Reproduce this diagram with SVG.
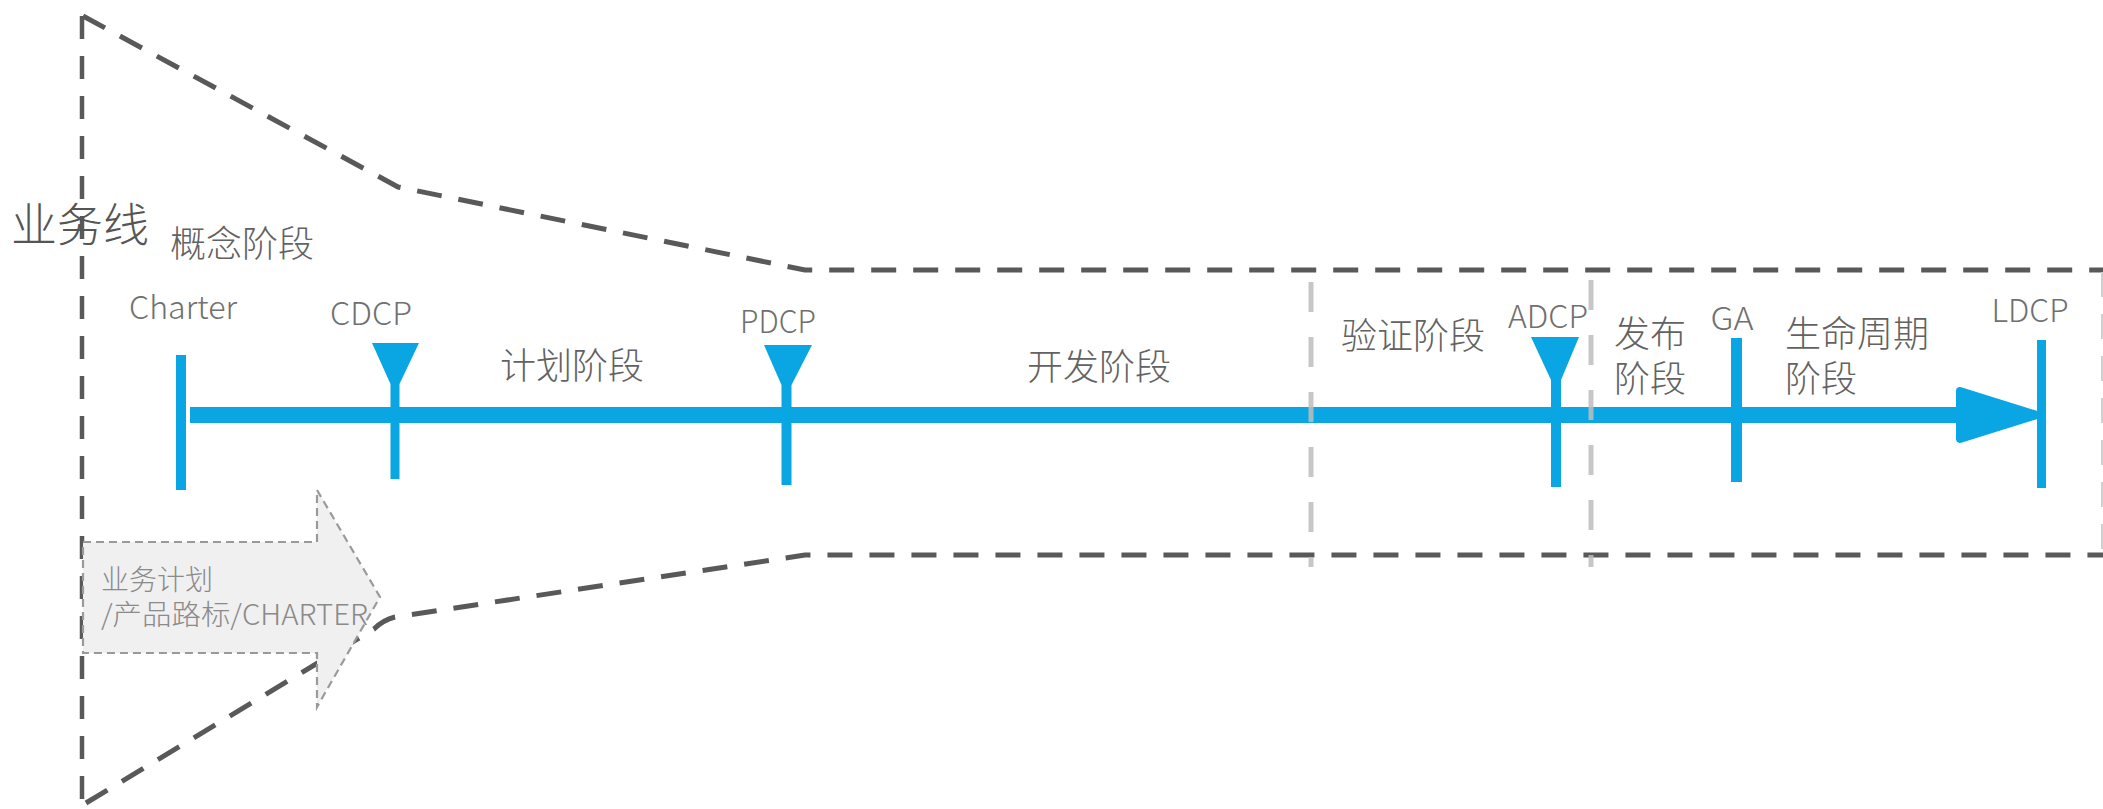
<svg xmlns="http://www.w3.org/2000/svg" width="2103" height="809" viewBox="0 0 2103 809">
<style>
.funnel{fill:none;stroke:#595959;stroke-width:5;stroke-dasharray:25 17;stroke-linejoin:round}
.vdash{fill:none;stroke:#595959;stroke-width:4.5;stroke-dasharray:23 17}
.gdash{fill:none;stroke:#bdbdbd;stroke-width:5;stroke-dasharray:30 25;opacity:0.85}
.blue{fill:#0AA6E4}
.lat{font-family:"Noto Sans CJK SC","Noto Sans","Liberation Sans",sans-serif;font-weight:300;font-size:32px;fill:#707070;text-anchor:middle}
.ph{font-family:"Noto Sans CJK SC","Noto Sans CJK JP",sans-serif;font-weight:300;font-size:36px;fill:#626262}
.big{font-family:"Noto Sans CJK SC","Noto Sans CJK JP",sans-serif;font-weight:300;font-size:46px;fill:#555}
.box{font-family:"Noto Sans CJK SC","Noto Sans CJK JP",sans-serif;font-weight:300;font-size:28px;fill:#8a8a8a}
</style>
<rect width="2103" height="809" fill="#fff"/>
<g id="funnel">
<path class="vdash" d="M82,16 V805"/>
<path class="funnel" d="M83,16 L398,187 L805,270 L2103,270"/>
<path class="funnel" d="M86,803 L374,629 Q383,620 395,617 L805,555 L2103,555"/>
<path d="M2102,272 V553" fill="none" stroke="#d0d0d0" stroke-width="2" stroke-dasharray="25 17"/>
</g>
<g id="connectors">
<rect class="blue" x="190" y="407" width="1772" height="16"/>
<polygon class="blue" points="1960,391 2037,415 1960,439" stroke="#0AA6E4" stroke-width="8" stroke-linejoin="round"/>
</g>
<g id="phase-dividers">
<path class="gdash" d="M1311,282 V567"/>
<path class="gdash" d="M1591,280 V567"/>
</g>
<g id="charter-box">
<path d="M83,542 H317 V490 L380,597 L317,707 V653 H83 Z" fill="#f0f0f0" stroke="#9a9a9a" stroke-width="2.2" stroke-dasharray="8 5"/>
<text class="box" x="101" y="590">业务计划</text>
<text class="box" x="101" y="625" textLength="267" lengthAdjust="spacingAndGlyphs">/产品路标/CHARTER</text>
</g>
<g id="title">
<text class="big" x="11" y="241">业务线</text>
</g>
<g id="concept-phase"><text class="ph" x="170" y="257">概念阶段</text></g>
<g id="ms-charter">
<rect class="blue" x="176" y="355" width="10" height="135"/>
<text class="lat" x="183" y="319" textLength="108" lengthAdjust="spacingAndGlyphs">Charter</text>
</g>
<g id="ms-cdcp">
<polygon class="blue" points="372,343 419,343 399.5,384 399.5,479 390.5,479 390.5,384"/>
<text class="lat" x="371" y="325" textLength="82" lengthAdjust="spacingAndGlyphs">CDCP</text>
</g>
<g id="plan-phase"><text class="ph" x="500" y="379">计划阶段</text></g>
<g id="ms-pdcp">
<polygon class="blue" points="764,345 812,345 791.5,385 791.5,485 781.5,485 781.5,385"/>
<text class="lat" x="778" y="333" textLength="76" lengthAdjust="spacingAndGlyphs">PDCP</text>
</g>
<g id="dev-phase"><text class="ph" x="1027" y="380">开发阶段</text></g>
<g id="verify-phase"><text class="ph" x="1341" y="349">验证阶段</text></g>
<g id="ms-adcp">
<polygon class="blue" points="1531,337 1579,337 1561,380 1561,487 1551,487 1551,380"/>
<text class="lat" x="1548" y="328" textLength="80" lengthAdjust="spacingAndGlyphs">ADCP</text>
</g>
<g id="release-phase">
<text class="ph" x="1614" y="347">发布</text>
<text class="ph" x="1614" y="392">阶段</text>
</g>
<g id="ms-ga">
<rect class="blue" x="1731" y="338" width="11" height="144"/>
<text class="lat" x="1732" y="330" textLength="43" lengthAdjust="spacingAndGlyphs">GA</text>
</g>
<g id="lifecycle-phase">
<text class="ph" x="1785" y="347">生命周期</text>
<text class="ph" x="1785" y="392">阶段</text>
</g>
<g id="ms-ldcp">
<rect class="blue" x="2037" y="340" width="9" height="148"/>
<text class="lat" x="2030" y="322" textLength="77" lengthAdjust="spacingAndGlyphs">LDCP</text>
</g>
</svg>
